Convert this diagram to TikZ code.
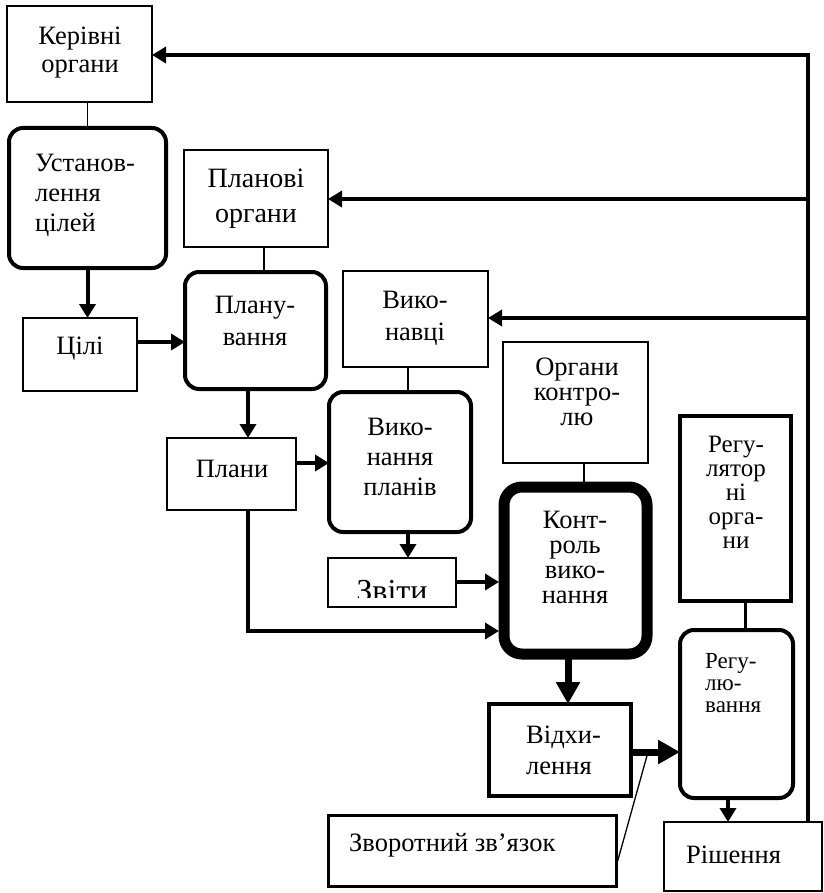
\documentclass[tikz,border=0pt]{standalone}
\usepackage{fontspec}
\setmainfont{Liberation Serif}
\usetikzlibrary{arrows.meta}
\newcommand\bx[6]{\node[#2, minimum width={#5-#3}, minimum height={#6-#4}] (#1) at ({(#3+#5)/2},{(#4+#6)/2}) {};}
\tikzset{
 thinbox/.style={draw, line width=1.6pt, inner sep=0pt, outer sep=0pt},
 medbox/.style={draw, line width=4pt, inner sep=0pt, outer sep=0pt},
 rbox/.style={draw, line width=4pt, rounded corners=14pt, inner sep=0pt, outer sep=0pt},
 bigbox/.style={draw, line width=11pt, rounded corners=18pt, inner sep=0pt, outer sep=0pt},
 txt/.style={inner sep=0pt, align=center, font=\fontsize{26.5}{30}\selectfont},
 arr/.style={line width=4pt, -{Triangle[length=14pt,width=16pt]}},
 bigarr/.style={line width=7pt, -{Triangle[length=22pt,width=23pt]}},
 conn/.style={line width=1.6pt},
}
\begin{document}
\begin{tikzpicture}[x=1pt,y=-1pt]
\useasboundingbox (0,0) rectangle (823,893);
% boxes
\bx{ker}{thinbox}{7}{6}{152}{102}
\bx{ust}{rbox}{9}{128}{166}{268}
\bx{cili}{thinbox}{23}{318}{137}{391}
\bx{plo}{thinbox}{184}{150}{328}{247}
\bx{plan}{rbox}{185}{272}{326}{389}
\bx{plany}{thinbox}{167}{438}{296}{510}
\bx{vykv}{thinbox}{343}{271}{488}{367}
\bx{vykp}{rbox}{329}{392}{471}{532}
\bx{zvity}{thinbox}{328}{558}{456}{607}
\bx{ork}{thinbox}{503}{342}{648}{463}
\bx{kontr}{bigbox}{504}{487}{647}{654}
\bx{vidh}{medbox}{489}{704}{631}{796}
\bx{regorg}{medbox}{680}{416}{791}{601}
\bx{reg}{rbox}{680}{630}{793}{798}
\bx{rish}{thinbox}{664}{822}{822}{891}
\bx{zvor}{thinbox,line width=3pt}{328}{815}{616}{886}
% texts
\node[txt, font=\fontsize{26.5}{28}\selectfont] (tker) at (80,53) {Керівні\\органи};
\node[txt, anchor=west, align=left] (tust) at (35,195) {Установ-\\лення\\цілей};
\node[txt] (tcili) at (80,349) {Цілі};
\node[txt, font=\fontsize{28}{35}\selectfont] (tplo) at (256,199) {Планові\\органи};
\node[txt, font=\fontsize{26.5}{32}\selectfont] (tplan) at (255,321) {Плану-\\вання};
\node[txt] (tplany) at (232,469) {Плани};
\node[txt, font=\fontsize{26.5}{32}\selectfont] (tvykv) at (415,318) {Вико-\\навці};
\node[txt] (tvykp) at (400,457) {Вико-\\нання\\планів};
\node[txt, font=\fontsize{26.5}{25}\selectfont] (tork) at (577,392) {Органи\\контро-\\лю};
\node[txt, font=\fontsize{26.5}{25}\selectfont] (tkontr) at (575,557) {Конт-\\роль\\вико-\\нання};
\node[txt, anchor=west, align=left, font=\fontsize{26.5}{31}\selectfont] (tvidh) at (526,750) {Відхи-\\лення};
\node[txt, font=\fontsize{25}{24}\selectfont] (tregorg) at (736,492) {Регу-\\лятор\\ні\\орга-\\ни};
\node[txt, anchor=west, align=left, font=\fontsize{23}{22}\selectfont] (treg) at (705,683) {Регу-\\лю-\\вання};
\node[txt, anchor=west] (trish) at (686,855) {Рішення};
\node[txt, anchor=west] (tzvor) at (349,845) {Зворотний зв’язок};
\begin{scope}
\clip (329,559) rectangle (455,597);
\node[txt, anchor=base, font=\fontsize{32}{32}\selectfont] (tzv) at (392,601) {Звіти};
\end{scope}
% plain connectors
\draw[conn] (ust.north) -- (ust.north |- ker.south);
\draw[conn] (plo.south -| 264,0) -- (plan.north -| 264,0);
\draw[conn] (vykv.south -| 408,0) -- (vykp.north -| 408,0);
\draw[conn] (ork.south -| 584,0) -- ([yshift=-5pt]kontr.north -| 584,0);
\draw[conn, line width=3pt] (regorg.south -| 745,0) -- (reg.north -| 745,0);
% arrows
\draw[arr] (ust.south) -- (ust.south |- cili.north);
\draw[arr] (cili.east |- 0,342) -- (plan.west |- 0,342);
\draw[arr] (plan.south -| 248,0) -- (plany.north -| 248,0);
\draw[arr] (plany.east |- 0,463) -- (vykp.west |- 0,463);
\draw[arr] (vykp.south -| 408,0) -- (zvity.north -| 408,0);
\draw[arr, shorten >=5pt] (zvity.east |- 0,582) -- (kontr.west |- 0,582);
\draw[arr, shorten >=5pt] (plany.south -| 248,0) -- (248,631) -- (kontr.west |- 0,631);
\draw[bigarr, shorten <=5pt] (kontr.south -| 568,0) -- (vidh.north -| 568,0);
\draw[bigarr] (vidh.east |- 0,752) -- (reg.west |- 0,752);
\draw[arr] (reg.south -| 728,0) -- (rish.north -| 728,0);
% feedback
\coordinate (c1) at (808,55);
\coordinate (c2) at (808,199);
\coordinate (c3) at (808,318);
\draw[arr] (rish.north -| c1) -- (c1) -- (ker.east |- c1);
\draw[arr] (c2) -- (plo.east |- c2);
\draw[arr] (c3) -- (vykv.east |- c3);
\coordinate (fbpt) at (648,752);
\draw[line width=1.3pt] (zvor.east |- 0,867) -- (fbpt);
\end{tikzpicture}
\end{document}
